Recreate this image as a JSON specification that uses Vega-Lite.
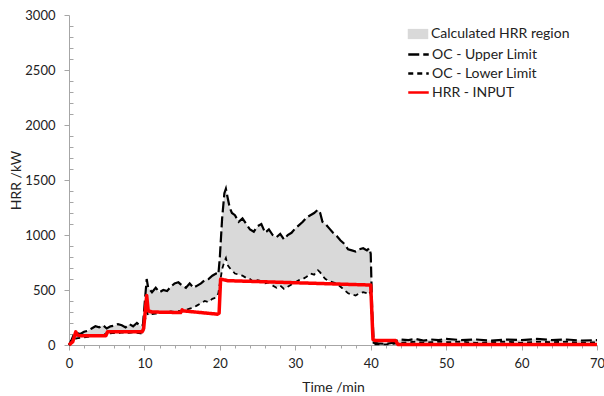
{
  "$schema": "https://vega.github.io/schema/vega-lite/v6.json",
  "width": 528,
  "height": 330,
  "autosize": {"type": "none"},
  "padding": {"left": 69, "top": 15, "right": 7, "bottom": 51},
  "config": {
    "view": {"stroke": null},
    "font": "Lato",
    "axis": {
      "grid": false,
      "domainColor": "#a6a6a6",
      "tickColor": "#a6a6a6",
      "labelFont": "Lato",
      "labelFontSize": 13,
      "labelColor": "#222222",
      "titleFont": "Lato",
      "titleFontSize": 14,
      "titleFontWeight": "normal",
      "titleColor": "#222222",
      "labelOverlap": false,
      "labelFlush": false
    },
    "legend": {
      "labelFont": "Lato",
      "labelFontSize": 14,
      "labelColor": "#222222",
      "labelLimit": 300
    }
  },
  "resolve": {"axis": {"x": "independent", "y": "independent"}},
  "datasets": {
    "oc": [
      {"t": 0, "upper": 0, "lower": 0},
      {"t": 0.3, "upper": 40, "lower": 20},
      {"t": 0.6, "upper": 90, "lower": 50},
      {"t": 1.0, "upper": 110, "lower": 60},
      {"t": 1.5, "upper": 100, "lower": 65},
      {"t": 2.0, "upper": 120, "lower": 70},
      {"t": 2.5, "upper": 130, "lower": 75},
      {"t": 3.0, "upper": 150, "lower": 80},
      {"t": 3.5, "upper": 170, "lower": 85},
      {"t": 4.0, "upper": 160, "lower": 90},
      {"t": 4.5, "upper": 180, "lower": 85},
      {"t": 5.0, "upper": 150, "lower": 110},
      {"t": 5.5, "upper": 170, "lower": 105},
      {"t": 6.0, "upper": 175, "lower": 110},
      {"t": 6.5, "upper": 190, "lower": 105},
      {"t": 7.0, "upper": 180, "lower": 115},
      {"t": 7.5, "upper": 160, "lower": 110},
      {"t": 8.0, "upper": 190, "lower": 110},
      {"t": 8.5, "upper": 170, "lower": 115},
      {"t": 9.0, "upper": 200, "lower": 110},
      {"t": 9.5, "upper": 170, "lower": 105},
      {"t": 9.8, "upper": 180, "lower": 100},
      {"t": 10.0, "upper": 350, "lower": 200},
      {"t": 10.3, "upper": 600, "lower": 300},
      {"t": 10.5, "upper": 520, "lower": 270},
      {"t": 11.0, "upper": 480, "lower": 280},
      {"t": 11.5, "upper": 520, "lower": 285},
      {"t": 12.0, "upper": 480, "lower": 290},
      {"t": 12.5, "upper": 500, "lower": 295},
      {"t": 13.0, "upper": 490, "lower": 300},
      {"t": 13.5, "upper": 530, "lower": 305},
      {"t": 14.0, "upper": 560, "lower": 300},
      {"t": 14.5, "upper": 570, "lower": 310},
      {"t": 15.0, "upper": 540, "lower": 305},
      {"t": 15.5, "upper": 520, "lower": 320},
      {"t": 16.0, "upper": 560, "lower": 330},
      {"t": 16.5, "upper": 520, "lower": 340},
      {"t": 17.0, "upper": 540, "lower": 360},
      {"t": 17.5, "upper": 560, "lower": 380},
      {"t": 18.0, "upper": 590, "lower": 400},
      {"t": 18.5, "upper": 600, "lower": 390},
      {"t": 19.0, "upper": 630, "lower": 420},
      {"t": 19.5, "upper": 650, "lower": 430},
      {"t": 19.8, "upper": 640, "lower": 470},
      {"t": 20.0, "upper": 800, "lower": 560},
      {"t": 20.3, "upper": 1150, "lower": 690},
      {"t": 20.6, "upper": 1380, "lower": 760},
      {"t": 20.8, "upper": 1420, "lower": 790},
      {"t": 21.0, "upper": 1350, "lower": 730},
      {"t": 21.3, "upper": 1250, "lower": 700},
      {"t": 21.6, "upper": 1200, "lower": 680},
      {"t": 22.0, "upper": 1180, "lower": 650},
      {"t": 22.5, "upper": 1120, "lower": 640},
      {"t": 23.0, "upper": 1150, "lower": 630},
      {"t": 23.5, "upper": 1100, "lower": 610},
      {"t": 24.0, "upper": 1050, "lower": 600},
      {"t": 24.5, "upper": 1030, "lower": 570},
      {"t": 25.0, "upper": 1080, "lower": 590},
      {"t": 25.5, "upper": 1100, "lower": 580},
      {"t": 26.0, "upper": 1020, "lower": 560},
      {"t": 26.5, "upper": 1050, "lower": 570},
      {"t": 27.0, "upper": 1000, "lower": 540},
      {"t": 27.5, "upper": 980, "lower": 520},
      {"t": 28.0, "upper": 1010, "lower": 540},
      {"t": 28.5, "upper": 960, "lower": 510},
      {"t": 29.0, "upper": 1000, "lower": 530},
      {"t": 29.5, "upper": 1020, "lower": 550},
      {"t": 30.0, "upper": 1060, "lower": 570},
      {"t": 30.5, "upper": 1090, "lower": 590},
      {"t": 31.0, "upper": 1120, "lower": 600},
      {"t": 31.5, "upper": 1160, "lower": 620},
      {"t": 32.0, "upper": 1180, "lower": 650},
      {"t": 32.5, "upper": 1200, "lower": 640},
      {"t": 33.0, "upper": 1230, "lower": 680},
      {"t": 33.3, "upper": 1200, "lower": 660},
      {"t": 33.6, "upper": 1120, "lower": 630},
      {"t": 34.0, "upper": 1100, "lower": 600},
      {"t": 34.5, "upper": 1060, "lower": 580},
      {"t": 35.0, "upper": 1020, "lower": 570},
      {"t": 35.5, "upper": 990, "lower": 560},
      {"t": 36.0, "upper": 950, "lower": 530},
      {"t": 36.5, "upper": 920, "lower": 500},
      {"t": 37.0, "upper": 870, "lower": 470},
      {"t": 37.5, "upper": 860, "lower": 460},
      {"t": 38.0, "upper": 850, "lower": 450},
      {"t": 38.5, "upper": 870, "lower": 470},
      {"t": 39.0, "upper": 880, "lower": 480},
      {"t": 39.5, "upper": 860, "lower": 470},
      {"t": 39.8, "upper": 880, "lower": 490},
      {"t": 40.0, "upper": 830, "lower": 460},
      {"t": 40.2, "upper": 300, "lower": 150},
      {"t": 40.4, "upper": 20, "lower": 5},
      {"t": 41, "upper": 15, "lower": 5},
      {"t": 42, "upper": 10, "lower": 5},
      {"t": 43, "upper": 20, "lower": 10},
      {"t": 43.5, "upper": 40, "lower": 15},
      {"t": 44, "upper": 50, "lower": 20},
      {"t": 45, "upper": 45, "lower": 25},
      {"t": 46, "upper": 55, "lower": 30},
      {"t": 47, "upper": 40, "lower": 20},
      {"t": 48, "upper": 50, "lower": 25},
      {"t": 49, "upper": 45, "lower": 30},
      {"t": 50, "upper": 55, "lower": 25},
      {"t": 52, "upper": 45, "lower": 30},
      {"t": 54, "upper": 50, "lower": 20},
      {"t": 56, "upper": 40, "lower": 25},
      {"t": 58, "upper": 50, "lower": 30},
      {"t": 60, "upper": 45, "lower": 20},
      {"t": 62, "upper": 55, "lower": 30},
      {"t": 64, "upper": 45, "lower": 25},
      {"t": 66, "upper": 50, "lower": 30},
      {"t": 68, "upper": 40, "lower": 20},
      {"t": 70, "upper": 45, "lower": 25}
    ],
    "hrr": [
      {"t": 0, "hrr": 0},
      {"t": 0.5, "hrr": 30},
      {"t": 0.9, "hrr": 120},
      {"t": 1.1, "hrr": 90},
      {"t": 1.5, "hrr": 85},
      {"t": 4.9, "hrr": 85},
      {"t": 5.1, "hrr": 120},
      {"t": 9.7, "hrr": 120},
      {"t": 9.9, "hrr": 150},
      {"t": 10.1, "hrr": 300},
      {"t": 10.3, "hrr": 450},
      {"t": 10.5, "hrr": 310},
      {"t": 11.0, "hrr": 300},
      {"t": 14.8, "hrr": 295},
      {"t": 15.0, "hrr": 320},
      {"t": 15.2, "hrr": 310},
      {"t": 19.7, "hrr": 280},
      {"t": 19.9, "hrr": 290},
      {"t": 20.1, "hrr": 600},
      {"t": 20.4, "hrr": 595},
      {"t": 21.0, "hrr": 585},
      {"t": 40.0, "hrr": 545},
      {"t": 40.3, "hrr": 50},
      {"t": 40.6, "hrr": 40},
      {"t": 43.3, "hrr": 40},
      {"t": 43.6, "hrr": 5},
      {"t": 70, "hrr": 5}
    ]
  },
  "layer": [
    {
      "data": {"name": "oc"},
      "mark": {"type": "area", "opacity": 1},
      "encoding": {
        "x": {
          "field": "t",
          "type": "quantitative",
          "scale": {"domain": [0, 70], "nice": false, "zero": false},
          "axis": {
            "title": "Time /min",
            "orient": "bottom",
            "values": [0, 10, 20, 30, 40, 50, 60, 70],
            "format": "d",
            "tickSize": 5,
            "labelPadding": 7,
            "titlePadding": 10
          }
        },
        "y": {
          "field": "upper",
          "type": "quantitative",
          "scale": {"domain": [0, 3000], "nice": false},
          "axis": {
            "title": "HRR /kW",
            "orient": "left",
            "values": [0, 500, 1000, 1500, 2000, 2500, 3000],
            "format": "d",
            "tickSize": 5,
            "labelPadding": 9,
            "titlePadding": 1
          }
        },
        "y2": {"field": "lower"},
        "fill": {
          "datum": "Calculated HRR region",
          "scale": {"domain": ["Calculated HRR region"], "range": ["#d9d9d9"]},
          "legend": {
            "title": null,
            "orient": "none",
            "legendX": 338,
            "legendY": 8,
            "symbolType": "M-1,-0.5H1V0.5H-1Z",
            "symbolSize": 420,
            "labelOffset": 2
          }
        }
      }
    },
    {
      "data": {"name": "oc"},
      "mark": {"type": "line", "strokeWidth": 2.2},
      "encoding": {
        "x": {"field": "t", "type": "quantitative", "axis": null},
        "y": {"field": "upper", "type": "quantitative", "axis": null},
        "stroke": {
          "datum": "OC - Upper Limit",
          "scale": {"domain": ["OC - Upper Limit", "OC - Lower Limit", "HRR - INPUT"], "range": ["#000000", "#000000", "#ff0000"]},
          "legend": {
            "title": null,
            "orient": "none",
            "legendX": 338,
            "legendY": 28,
            "symbolType": "stroke",
            "symbolSize": 420,
            "symbolStrokeWidth": 2.5,
            "rowPadding": 0,
            "labelOffset": 2
          }
        },
        "strokeDash": {
          "datum": "OC - Upper Limit",
          "scale": {"domain": ["OC - Upper Limit", "OC - Lower Limit", "HRR - INPUT"], "range": [[11, 4], [5, 4], [1, 0]]},
          "legend": {
            "title": null,
            "orient": "none",
            "legendX": 338,
            "legendY": 28,
            "symbolType": "stroke",
            "symbolSize": 420,
            "symbolStrokeWidth": 2.5,
            "rowPadding": 0,
            "labelOffset": 2
          }
        }
      }
    },
    {
      "data": {"name": "oc"},
      "mark": {"type": "line", "strokeWidth": 1.8},
      "encoding": {
        "x": {"field": "t", "type": "quantitative", "axis": null},
        "y": {"field": "lower", "type": "quantitative", "axis": null},
        "stroke": {"datum": "OC - Lower Limit"},
        "strokeDash": {"datum": "OC - Lower Limit"}
      }
    },
    {
      "data": {"name": "hrr"},
      "mark": {"type": "line", "strokeWidth": 3.5, "strokeJoin": "round"},
      "encoding": {
        "x": {
          "field": "t",
          "type": "quantitative",
          "axis": {
            "title": null,
            "orient": "bottom",
            "values": [2,4,6,8,12,14,16,18,22,24,26,28,32,34,36,38,42,44,46,48,52,54,56,58,62,64,66,68],
            "labels": false,
            "domain": false,
            "tickSize": 3
          }
        },
        "y": {
          "field": "hrr",
          "type": "quantitative",
          "axis": {
            "title": null,
            "orient": "left",
            "values": [100,200,300,400,600,700,800,900,1100,1200,1300,1400,1600,1700,1800,1900,2100,2200,2300,2400,2600,2700,2800,2900],
            "labels": false,
            "domain": false,
            "tickSize": -4
          }
        },
        "stroke": {"datum": "HRR - INPUT"},
        "strokeDash": {"datum": "HRR - INPUT"}
      }
    }
  ]
}
